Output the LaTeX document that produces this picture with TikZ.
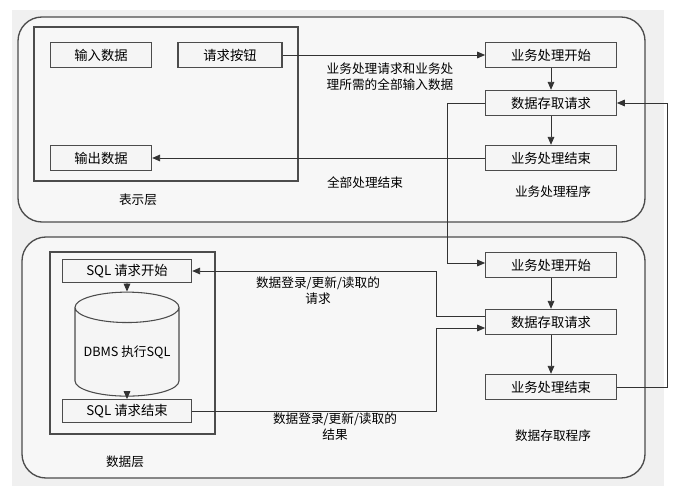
\documentclass[tikz,border=0pt]{standalone}
\usepackage{fontspec}
\setmainfont{Noto Sans CJK SC}
\usetikzlibrary{shapes.geometric,arrows.meta}
\begin{document}
\begin{tikzpicture}[x=0.75pt,y=-0.75pt,
  bx/.style={draw=black!70,fill=black!4,line width=0.8pt,minimum width=98pt,minimum height=19pt,inner sep=0pt,font=\fontsize{10}{12}\selectfont},
  lb/.style={font=\fontsize{9.5}{12}\selectfont,align=center},
  ar/.style={-{Triangle[length=6pt,width=5pt]},line width=0.7pt,black!80},
  ln/.style={line width=0.7pt,black!80}]
\useasboundingbox (0,0) rectangle (678,492);
\fill[white] (0,0) rectangle (678,492);
\fill[black!6] (12,10) rectangle (664,486);
\draw[black!70,line width=1pt,rounded corners=18pt,fill=black!3] (18,17) rectangle (645,222);
\draw[black!70,line width=1pt] (34,27) rectangle (298,181);
\draw[black!70,line width=1pt,rounded corners=18pt,fill=black!3] (22,237) rectangle (645,478);
\draw[black!70,line width=1pt] (50,252) rectangle (215,434);
\node[bx,minimum width=76pt] (in) at (101,55) {输入数据};
\node[bx,minimum width=78pt] (btn) at (230,55) {请求按钮};
\node[bx,minimum width=76pt] (out) at (101,158) {输出数据};
\node[bx] (s1) at (551,55) {业务处理开始};
\node[bx] (r1) at (551,103) {数据存取请求};
\node[bx] (e1) at (551,158) {业务处理结束};
\node[bx] (s2) at (551,265) {业务处理开始};
\node[bx] (r2) at (551,322) {数据存取请求};
\node[bx] (e2) at (551,387) {业务处理结束};
\node[bx,minimum width=97pt,minimum height=17pt] (q1) at (127,271) {SQL 请求开始};
\node[bx,minimum width=97pt,minimum height=17pt] (q2) at (127,411) {SQL 请求结束};
\node[cylinder,shape border rotate=90,draw=black!70,fill=black!4,line width=0.8pt,minimum width=78pt,minimum height=78pt,aspect=0.35,inner sep=0pt,font=\fontsize{9.5}{12}\selectfont] (db) at (127,352) {\raisebox{-8pt}{DBMS 执行SQL}};
\draw[ar] (btn) -- (s1);
\draw[ar] (e1) -- (out);
\draw[ar] (s1) -- (r1);
\draw[ar] (r1) -- (e1);
\draw[ar] (s2) -- (r2);
\draw[ar] (r2) -- (e2);
\draw[ar] (q1) -- (db);
\draw[ar] (db) -- (q2);
\coordinate (a1) at (447,103); \coordinate (a2) at (447,263);
\draw[ar] (r1.west) -- (a1) -- (a2) -- (s2.west|-a2);
\coordinate (b1) at (667,387); \coordinate (b2) at (667,103);
\draw[ar] (e2.east) -- (b1) -- (b2) -- (r1.east);
\coordinate (c1) at (436,316); \coordinate (c2) at (436,271);
\draw[ar] (r2.west|-c1) -- (c1) -- (c2) -- (q1.east);
\coordinate (d1) at (436,411); \coordinate (d2) at (436,328);
\draw[ar] (q2.east) -- (d1) -- (d2) -- (r2.west|-d2);
\node[lb,align=left] (t1) at (390,77) {业务处理请求和业务处\\理所需的全部输入数据};
\node[lb] (t2) at (365,183) {全部处理结束};
\node[lb] (t3) at (553,192) {业务处理程序};
\node[lb] (t4) at (138,200) {表示层};
\node[lb] (t5) at (318,291) {数据登录/更新/读取的\\请求};
\node[lb] (t6) at (335,427) {数据登录/更新/读取的\\结果};
\node[lb] (t7) at (553,436) {数据存取程序};
\node[lb] (t8) at (125,462) {数据层};
\end{tikzpicture}
\end{document}
